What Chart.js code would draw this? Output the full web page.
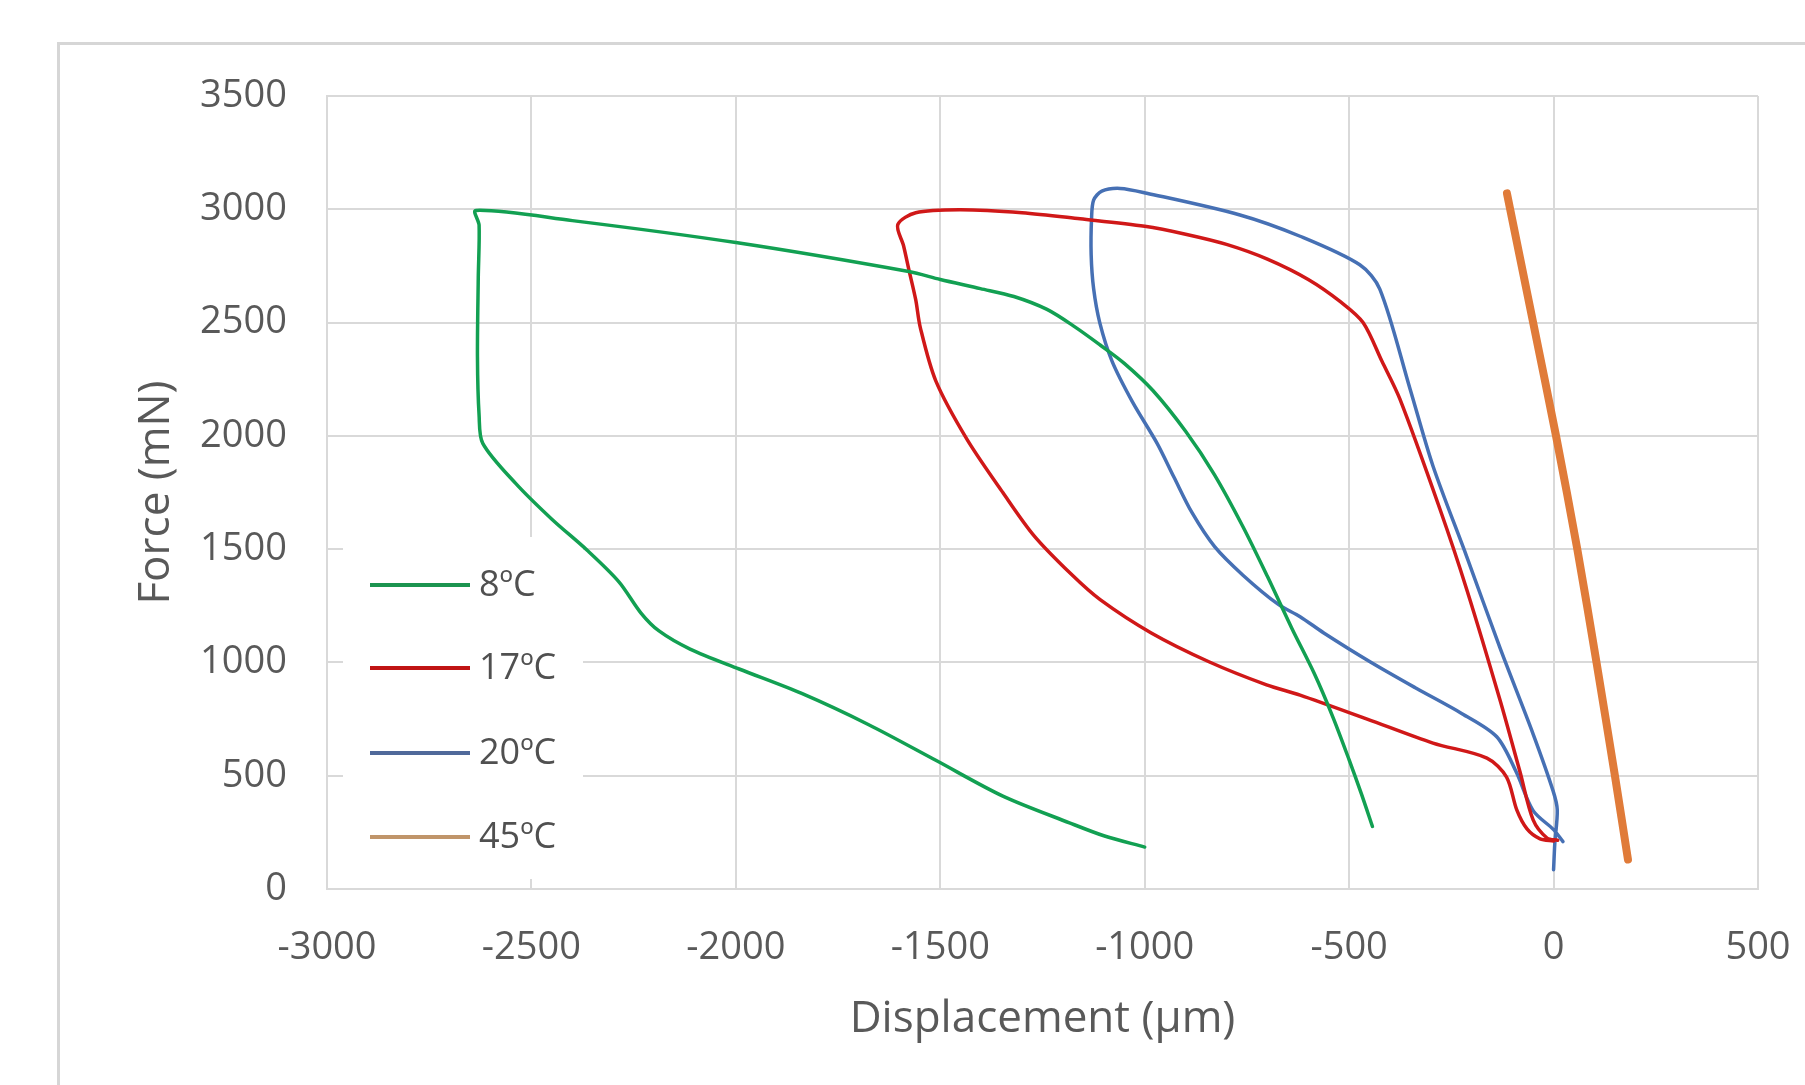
<!DOCTYPE html>
<html>
<head>
<meta charset="utf-8">
<title>Force vs Displacement</title>
<script src="https://cdn.jsdelivr.net/npm/chart.js@4.4.1/dist/chart.umd.min.js"></script>
<style>
  html, body { margin: 0; padding: 0; background: #fff; }
  #wrap { width: 1805px; height: 1085px; position: relative; }
</style>
</head>
<body>
<div id="wrap"><canvas id="myChart"></canvas></div>
<script>
// tick values
const xTicks = [-3000, -2500, -2000, -1500, -1000, -500, 0, 500];
const yTicks = [0, 500, 1000, 1500, 2000, 2500, 3000, 3500];

// 8ºC
const t8x = [-443, -470, -500, -540, -585, -640, -700, -760, -830, -900, -980, -1050, -1109, -1170, -1239, -1320, -1402, -1500, -1577, -2000, -2400, -2636, -2628, -2630, -2632, -2628, -2619, -2538, -2450, -2363, -2286, -2232, -2188, -2112, -1992, -1839, -1675, -1511, -1347, -1184, -1100, -1000];
const t8y = [276, 420, 570, 760, 950, 1150, 1380, 1600, 1830, 2020, 2200, 2320, 2401, 2480, 2558, 2615, 2650, 2690, 2725, 2853, 2950, 2995, 2930, 2700, 2350, 2090, 1967, 1789, 1632, 1494, 1356, 1218, 1139, 1059, 971, 863, 725, 568, 410, 292, 235, 185];

// 17ºC
const t17x = [10, -16, -50, -82, -131, -212, -278, -376, -420, -466, -520, -600, -700, -800, -900, -1000, -1158, -1300, -1450, -1560, -1604, -1590, -1577, -1560, -1549, -1511, -1435, -1347, -1271, -1180, -1109, -984, -843, -702, -620, -456, -295, -163, -115, -90, -65, -33, 0];
const t17y = [215, 225, 305, 516, 834, 1320, 1677, 2163, 2330, 2500, 2590, 2690, 2780, 2845, 2890, 2925, 2958, 2985, 2998, 2985, 2932, 2840, 2735, 2600, 2479, 2243, 1986, 1750, 1560, 1390, 1277, 1130, 1003, 901, 856, 750, 644, 578, 494, 349, 265, 221, 212];

// 20ºC
const t20x = [0, 3, 9, -1, -50, -131, -212, -295, -351, -425, -474, -620, -767, -995, -1060, -1105, -1125, -1130, -1131, -1125, -1110, -1080, -1030, -970, -928, -885, -829, -759, -674, -620, -562, -449, -336, -224, -139, -91, -50, 0, 23];
const t20y = [85, 200, 349, 432, 684, 1064, 1465, 1867, 2207, 2648, 2755, 2881, 2975, 3071, 3092, 3080, 3040, 2960, 2800, 2650, 2500, 2330, 2150, 1968, 1816, 1663, 1511, 1384, 1257, 1202, 1130, 1003, 886, 774, 672, 515, 346, 262, 209];

// 45ºC
const t45x = [-114, -50, 6, 58, 105, 150, 182];
const t45y = [3070, 2500, 2000, 1500, 1000, 500, 130];

const seriesNames = ['8ºC', '17ºC', '20ºC', '45ºC'];
const lineColors = ['#12a052', '#d01818', '#4670b4', '#e07b39'];
const legendColors = ['#1c9450', '#c01414', '#50699a', '#c0956a'];

const toPoints = (xs, ys) => xs.map((x, i) => ({ x: x, y: ys[i] }));

const ctx = document.getElementById('myChart');

// outer frame of the figure
const framePlugin = {
  id: 'frame',
  beforeDraw(chart) {
    const c = chart.ctx;
    c.save();
    c.strokeStyle = '#d6d6d6';
    c.lineWidth = 3;
    c.strokeRect(58.5, 43.5, 3000, 3000);
    c.restore();
  }
};

// legend sitting inside the plot, bottom left, drawn over the grid
const insideLegend = {
  id: 'insideLegend',
  beforeDatasetsDraw(chart) {
    const c = chart.ctx;
    const a = chart.chartArea;
    c.save();
    c.fillStyle = '#ffffff';
    c.fillRect(a.left + 16, a.bottom - 352, 240, 342);
    c.font = '36px "Open Sans"';
    c.textBaseline = 'middle';
    c.textAlign = 'left';
    const rows = [-304, -221, -136, -52];
    seriesNames.forEach((name, i) => {
      const y = a.bottom + rows[i];
      c.strokeStyle = legendColors[i];
      c.lineWidth = 4;
      c.beginPath();
      c.moveTo(a.left + 43, y);
      c.lineTo(a.left + 143, y);
      c.stroke();
      c.fillStyle = '#505050';
      c.fillText(name, a.left + 152, y + 1);
    });
    c.restore();
  }
};

new Chart(ctx, {
  type: 'scatter',
  data: {
    datasets: [
      { label: seriesNames[0], data: toPoints(t8x, t8y), borderColor: lineColors[0], borderWidth: 3.5 },
      { label: seriesNames[1], data: toPoints(t17x, t17y), borderColor: lineColors[1], borderWidth: 3.5 },
      { label: seriesNames[2], data: toPoints(t20x, t20y), borderColor: lineColors[2], borderWidth: 3.5 },
      { label: seriesNames[3], data: toPoints(t45x, t45y), borderColor: lineColors[3], borderWidth: 8 }
    ]
  },
  options: {
    responsive: true,
    maintainAspectRatio: false,
    animation: false,
    devicePixelRatio: 1,
    showLine: true,
    elements: {
      point: { radius: 0 },
      line: { tension: 0.3, borderCapStyle: 'round', borderJoinStyle: 'round' }
    },
    layout: { padding: { left: 0, top: 96, right: 47, bottom: 0 } },
    plugins: {
      legend: { display: false },
      tooltip: { enabled: false }
    },
    scales: {
      x: {
        type: 'linear',
        min: xTicks[0],
        max: xTicks[xTicks.length - 1],
        afterBuildTicks: (scale) => { scale.ticks = xTicks.map(v => ({ value: v })); },
        afterFit: (scale) => { scale.height = 196; scale.paddingLeft = 0; scale.paddingRight = 0; },
        grid: { color: '#d9d9d9', lineWidth: 2, drawTicks: false },
        border: { display: true, color: '#d9d9d9', width: 2 },
        ticks: { padding: 36, color: '#595959', font: { family: 'Open Sans', size: 38 }, callback: (v) => String(v) },
        title: {
          display: true,
          text: 'Displacement (µm)',
          color: '#595959',
          font: { family: 'Open Sans', size: 44 },
          padding: { top: 0, bottom: 39 }
        }
      },
      y: {
        type: 'linear',
        min: yTicks[0],
        max: yTicks[yTicks.length - 1],
        afterBuildTicks: (scale) => { scale.ticks = yTicks.map(v => ({ value: v })); },
        afterFit: (scale) => { scale.width = 327; scale.paddingTop = 0; scale.paddingBottom = 0; },
        grid: { color: '#d9d9d9', lineWidth: 2, drawTicks: false },
        border: { display: true, color: '#d9d9d9', width: 2 },
        ticks: { padding: 40, color: '#595959', font: { family: 'Open Sans', size: 38 }, callback: (v) => String(v) },
        title: {
          display: true,
          text: 'Force (mN)',
          color: '#595959',
          font: { family: 'Open Sans', size: 44 },
          padding: { top: 130, bottom: 0 }
        }
      }
    }
  },
  plugins: [framePlugin, insideLegend]
});
</script>
</body>
</html>
